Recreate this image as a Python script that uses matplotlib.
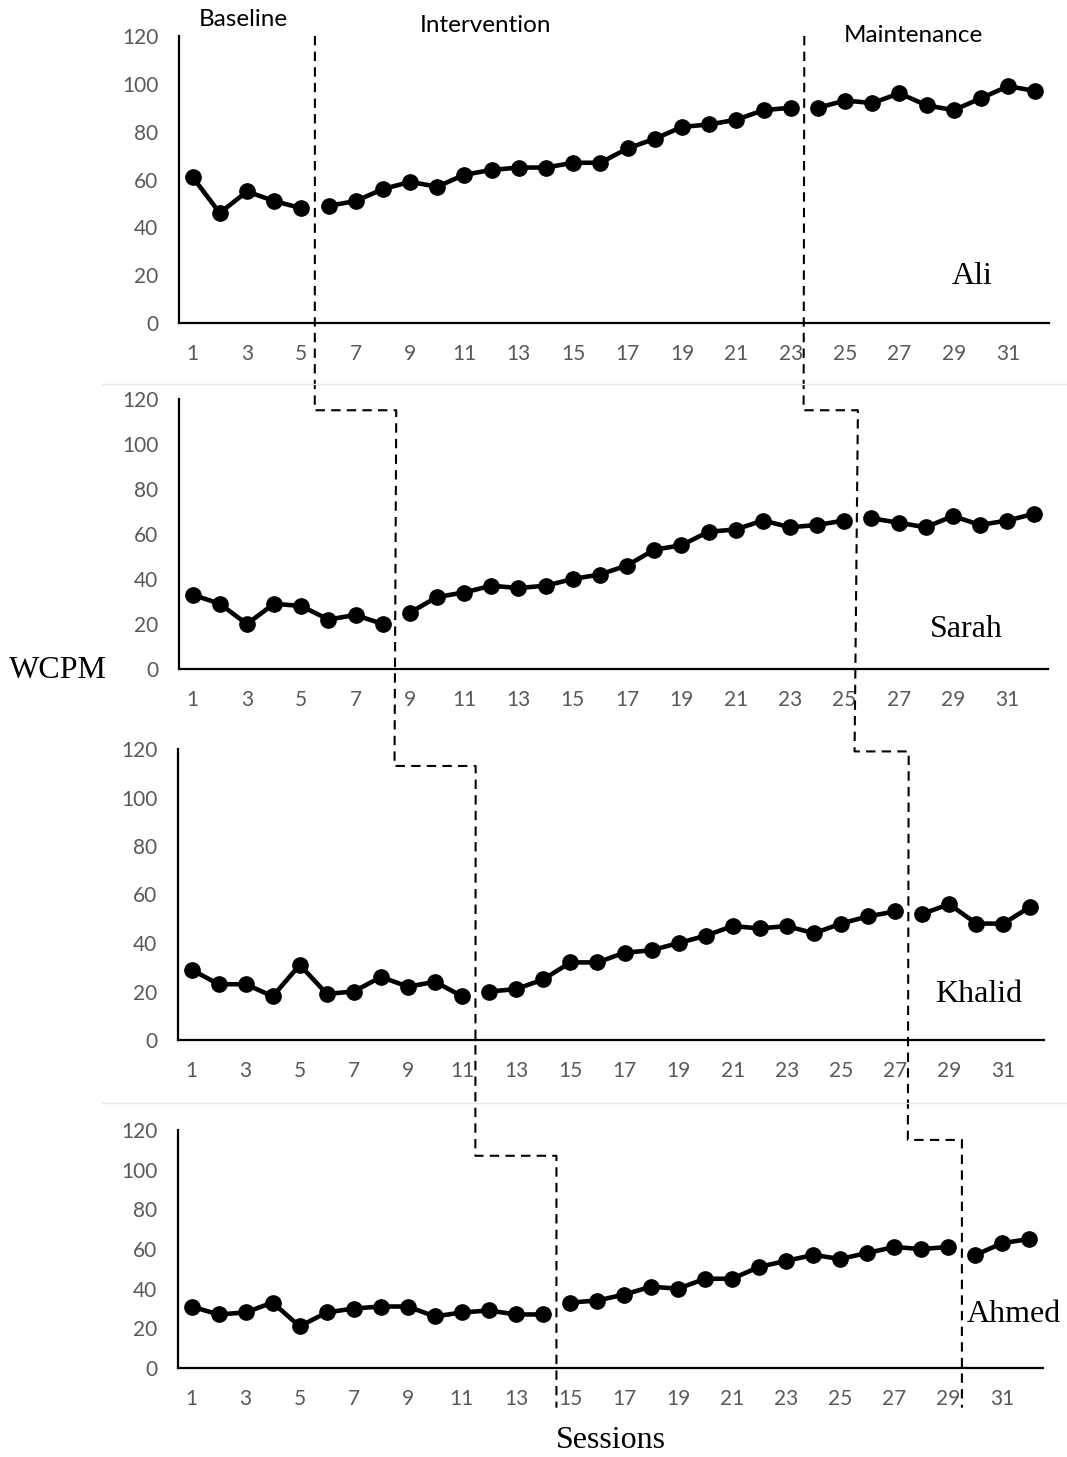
import numpy as np
import matplotlib
matplotlib.use("Agg")
import matplotlib.pyplot as plt
from matplotlib.lines import Line2D

# data (WCPM per session)
sessions = np.arange(1, 33)
names = ["Ali", "Sarah", "Khalid", "Ahmed"]
ali = [61, 46, 55, 51, 48, 49, 51, 56, 59, 57, 62, 64, 65, 65, 67, 67,
       73, 77, 82, 83, 85, 89, 90, 90, 93, 92, 96, 91, 89, 94, 99, 97]
sarah = [33, 29, 20, 29, 28, 22, 24, 20, 25, 32, 34, 37, 36, 37, 40, 42,
         46, 53, 55, 61, 62, 66, 63, 64, 66, 67, 65, 63, 68, 64, 66, 69]
khalid = [29, 23, 23, 18, 31, 19, 20, 26, 22, 24, 18, 20, 21, 25, 32, 32,
          36, 37, 40, 43, 47, 46, 47, 44, 48, 51, 53, 52, 56, 48, 48, 55]
ahmed = [31, 27, 28, 33, 21, 28, 30, 31, 31, 26, 28, 29, 27, 27, 33, 34,
         37, 41, 40, 45, 45, 51, 54, 57, 55, 58, 61, 60, 61, 57, 63, 65]
series = [ali, sarah, khalid, ahmed]

# last session of baseline / intervention for each student
baseline_end = [5, 8, 11, 14]
intervention_end = [23, 25, 27, 29]

# heights (in each panel's units) of the dashed steps
step_a = [None, 115, 113, 107]
step_b = [None, 115, 119, 115]

y_ticks = [0, 20, 40, 60, 80, 100, 120]
x_ticks = list(range(1, 32, 2))

W, H = 1067, 1457
fig = plt.figure(figsize=(W / 100, H / 100), dpi=100)

tick_font = "Lato"
serif = "Liberation Serif"


def px_box(l, t, r, b):
    return [l / W, 1 - b / H, (r - l) / W, (b - t) / H]


boxes = [(179, 36, 1049, 323), (179, 399, 1048, 669),
         (178, 749, 1044, 1040), (178, 1130, 1043, 1368)]

axes = []
for i, box in enumerate(boxes):
    ax = fig.add_axes(px_box(*box))
    ax.set_xlim(0.5, 32.5)
    ax.set_ylim(0, 120)
    ax.set_yticks(y_ticks)
    ax.set_xticks(x_ticks)
    ax.tick_params(length=0, labelsize=15, labelcolor="#595959", pad=15)
    for lab in ax.get_xticklabels() + ax.get_yticklabels():
        lab.set_fontfamily(tick_font)
    ax.spines[["top", "right"]].set_visible(False)
    ax.spines[["left", "bottom"]].set_linewidth(1.6)
    ax.patch.set_alpha(0)

    vals = np.array(series[i])
    b, m = baseline_end[i], intervention_end[i]
    for sl in [slice(0, b), slice(b, m), slice(m, 32)]:
        ax.plot(sessions[sl], vals[sl], color="black", lw=3.3,
                marker="o", markersize=11, clip_on=False)
    axes.append(ax)


def to_fig(ax, x, y):
    p = ax.transData.transform((x, y))
    return fig.transFigure.inverted().transform(p)


# dashed phase-change lines, stepping down through the panels
def phase_path(ends, steps, top_y):
    pts = [to_fig(axes[0], ends[0] + 0.5, top_y)]
    for i in range(1, 4):
        pts.append(to_fig(axes[i], ends[i - 1] + 0.5, steps[i]))
        pts.append(to_fig(axes[i], ends[i] + 0.5, steps[i]))
    pts.append(to_fig(axes[3], ends[3] + 0.5, -20))
    pts = np.array(pts)
    fig.add_artist(Line2D(pts[:, 0], pts[:, 1], color="black", lw=1.5,
                          linestyle=(0, (4.5, 3))))


phase_path(baseline_end, step_a, 120)
phase_path(intervention_end, step_b, 120)

# faint separators between the panels
for yy in [384, 1103]:
    fig.add_artist(Line2D([102 / W, 1], [1 - yy / H] * 2, color="#e8e8e8", lw=1))

# phase labels
fig.text(243 / W, 1 - 20 / H, "Baseline", ha="center", va="center",
         fontsize=17.5, family=tick_font)
fig.text(485 / W, 1 - 25 / H, "Intervention", ha="center", va="center",
         fontsize=17.5, family=tick_font)
fig.text(913 / W, 1 - 35 / H, "Maintenance", ha="center", va="center",
         fontsize=17.5, family=tick_font)

# student names
name_pos = [(972, 277), (966, 629), (979, 995), (1014, 1314)]
for nm, (px, py) in zip(names, name_pos):
    fig.text(px / W, 1 - py / H, nm, ha="center", va="center",
             fontsize=23, family=serif)

fig.text(58 / W, 1 - 671 / H, "WCPM", ha="center", va="center",
         fontsize=23, family=serif)
fig.text(611 / W, 1 - 1441 / H, "Sessions", ha="center", va="center",
         fontsize=23, family=serif)

fig.savefig("out.png", dpi=100)
